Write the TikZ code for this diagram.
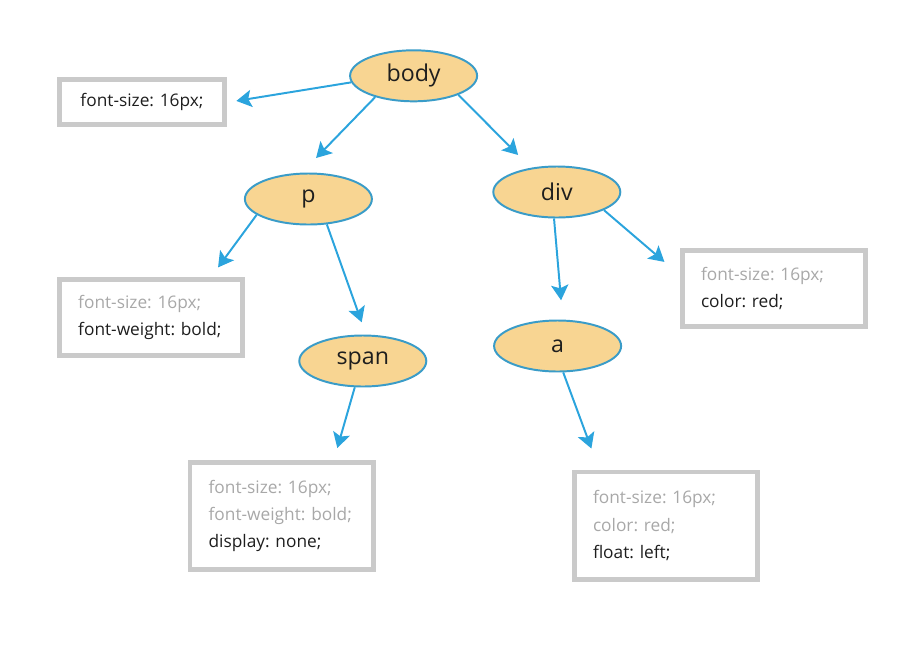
\documentclass[tikz,border=0pt]{standalone}
\usepackage{fontspec}
\setmainfont{Open Sans}
\usetikzlibrary{shapes.geometric,arrows.meta}
\definecolor{elemfill}{HTML}{F8D592}
\definecolor{elemline}{HTML}{3A9CC8}
\definecolor{arrline}{HTML}{2BA4DD}
\definecolor{ruleline}{HTML}{CACACA}
\definecolor{faded}{HTML}{A8A8A8}
\definecolor{ink}{HTML}{1E1E1E}
\begin{document}
\begin{tikzpicture}[
    elem/.style={ellipse,draw=elemline,fill=elemfill,line width=1.4pt,minimum width=3.175cm,minimum height=1.275cm,inner sep=0pt,text=ink,font=\fontsize{16.5}{20}\selectfont},
    rule/.style={rectangle,draw=ruleline,line width=3.5pt,minimum width=4.58cm,inner xsep=0.465cm,inner ysep=0pt,text width=3.65cm,align=left,text=ink,font=\fontsize{12.3}{19.3}\selectfont\frenchspacing},
    arr/.style={-{Stealth[length=0.38cm,width=0.43cm,inset=0.08cm]},draw=arrline,line width=1.4pt}]

    \useasboundingbox (0,0) rectangle (22.825,-16.3);

    \node[elem] (B) at (10.34,-1.895) {body};
    \node[elem] (P) at (7.71,-4.975) {p};
    \node[elem] (D) at (13.92,-4.8) {div};
    \node[elem] (S) at (9.07,-9.025) {span};
    \node[elem] (A) at (13.94,-8.65) {a};

    \node[rule,minimum width=4.14cm,text width=3.21cm,align=center,minimum height=1.125cm] (B1) at (3.55,-2.56) {font-size: 16px;};
    \node[rule,minimum height=1.9cm] (P1) at (3.78,-7.93) {\textcolor{faded}{font-size: 16px;}\\font-weight: bold;};
    \node[rule,minimum height=1.9cm] (D1) at (19.35,-7.21) {\textcolor{faded}{font-size: 16px;}\\color: red;};
    \node[rule,minimum height=2.68cm] (S1) at (7.04,-12.9) {\textcolor{faded}{font-size: 16px;}\\\textcolor{faded}{font-weight: bold;}\\display: none;};
    \node[rule,minimum height=2.68cm] (A1) at (16.65,-13.14) {\textcolor{faded}{font-size: 16px;}\\\textcolor{faded}{color: red;}\\float: left;};

    \draw[arr,shorten >=0.23cm] (B.186) -- (B1.east);
    \draw[arr,shorten >=0.51cm] (B.209) -- (P.104);
    \draw[arr,shorten >=0.45cm] (B.337) -- (D.137);

    \draw[arr,shorten >=0.29cm] (P.197) -- (P1.34);
    \draw[arr,shorten >=0.325cm] (P.306) -- (S.83);
    \draw[arr,shorten >=0.31cm] (S.253) -- (S1.47);

    \draw[arr,shorten >=0.485cm] (D.264) -- (A.79);
    \draw[arr,shorten >=0.51cm] (D.339) -- (D1.172);
    \draw[arr,shorten >=0.56cm] (A.282) -- (A1.140);

\end{tikzpicture}
\end{document}
